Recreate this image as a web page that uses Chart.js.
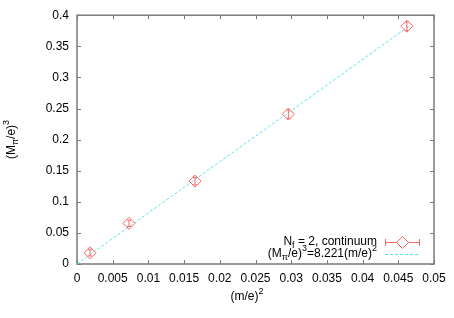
<!DOCTYPE html>
<html>
<head>
<meta charset="utf-8">
<script src="https://cdn.jsdelivr.net/npm/chart.js@4/dist/chart.umd.min.js"></script>
<style>
html,body{margin:0;padding:0;background:#fff;}
#wrap{width:454px;height:318px;position:relative;}
</style>
</head>
<body>
<div id="wrap"><canvas id="c" width="454" height="318"></canvas></div>
<script>
// data
const massX = [0.00182, 0.00728, 0.01653, 0.0296, 0.0462];
const massY = [0.018, 0.0654, 0.1333, 0.241, 0.3823];
const massErr = [0.005, 0.005, 0.006, 0.007, 0.007];
const fitX = [0, 0.0465];
const fitY = [0, 0.3823];
const xTicks = [0, 0.005, 0.01, 0.015, 0.02, 0.025, 0.03, 0.035, 0.04, 0.045, 0.05];
const xTickLabels = ["0", "0.005", "0.01", "0.015", "0.02", "0.025", "0.03", "0.035", "0.04", "0.045", "0.05"];
const yTicks = [0, 0.05, 0.1, 0.15, 0.2, 0.25, 0.3, 0.35, 0.4];
const yTickLabels = ["0", "0.05", "0.1", "0.15", "0.2", "0.25", "0.3", "0.35", "0.4"];
const seriesLabel = "N_f = 2, continuum";
const fitLabel = "(M_π/e)^3=8.221(m/e)^2";

const RED = "#ff6666";
const CYAN = "#55e6ee";
const AXIS = "#7a7a7a";
const FONT = "'Liberation Sans', Arial, sans-serif";

function parseRich(s){
  const segs=[]; let i=0; let cur='';
  while(i<s.length){
    const ch=s[i];
    if((ch==='_'||ch==='^') && i+1<s.length){
      if(cur){segs.push({t:cur,m:'n'});cur='';}
      segs.push({t:s[i+1],m: ch==='_'?'sub':'sup'});
      i+=2; continue;
    }
    cur+=ch; i++;
  }
  if(cur) segs.push({t:cur,m:'n'});
  return segs;
}
function richWidth(ctx,segs){
  let w=0;
  for(const s of segs){ctx.font=(s.m==='n'?'12px ':'9px ')+FONT; w+=ctx.measureText(s.t).width;}
  return w;
}
function drawRich(ctx,segs,x,y){
  for(const s of segs){
    ctx.font=(s.m==='n'?'12px ':'9px ')+FONT;
    const dy = s.m==='sub'?4:(s.m==='sup'?-5:0);
    ctx.fillText(s.t,x,y+dy);
    x+=ctx.measureText(s.t).width;
  }
}

const decor = {
  id:'decor',
  beforeDatasetsDraw(chart){
    const {ctx, chartArea:a, scales:{x,y}} = chart;
    ctx.save();
    ctx.strokeStyle=AXIS; ctx.lineWidth=1.5;
    ctx.strokeRect(a.left,a.top,a.right-a.left,a.bottom-a.top);
    ctx.lineWidth=1;
    const L=4;
    for(const v of xTicks){
      const px=Math.round(x.getPixelForValue(v))+0.5;
      ctx.beginPath();
      ctx.moveTo(px,a.bottom);ctx.lineTo(px,a.bottom-L);
      ctx.moveTo(px,a.top);ctx.lineTo(px,a.top+L);
      ctx.stroke();
    }
    for(const v of yTicks){
      const py=Math.round(y.getPixelForValue(v))+0.5;
      ctx.beginPath();
      ctx.moveTo(a.left,py);ctx.lineTo(a.left+L,py);
      ctx.moveTo(a.right,py);ctx.lineTo(a.right-L,py);
      ctx.stroke();
    }
    ctx.restore();
  },
  afterDatasetsDraw(chart){
    const {ctx, chartArea:a, scales:{x,y}} = chart;
    ctx.save();
    ctx.strokeStyle=RED; ctx.lineWidth=1;
    for(let i=0;i<massX.length;i++){
      const px=x.getPixelForValue(massX[i]);
      const y1=y.getPixelForValue(massY[i]-massErr[i]);
      const y2=y.getPixelForValue(massY[i]+massErr[i]);
      ctx.beginPath();
      ctx.moveTo(px,y1);ctx.lineTo(px,y2);
      ctx.moveTo(px-2,y1);ctx.lineTo(px+2,y1);
      ctx.moveTo(px-2,y2);ctx.lineTo(px+2,y2);
      ctx.stroke();
    }
    ctx.fillStyle='#000'; ctx.textBaseline='middle'; ctx.textAlign='left';
    const tx=377;
    let segs=parseRich(seriesLabel);
    drawRich(ctx,segs,tx-richWidth(ctx,segs),242);
    segs=parseRich(fitLabel);
    drawRich(ctx,segs,tx-richWidth(ctx,segs),254);
    ctx.strokeStyle=RED; ctx.lineWidth=1;
    ctx.beginPath();
    ctx.moveTo(385,242.5);ctx.lineTo(420,242.5);
    ctx.moveTo(385.5,239);ctx.lineTo(385.5,246);
    ctx.moveTo(419.5,239);ctx.lineTo(419.5,246);
    ctx.stroke();
    ctx.fillStyle='#fff';
    ctx.beginPath();
    ctx.moveTo(402.5-6,242.5);ctx.lineTo(402.5,236.5);ctx.lineTo(402.5+6,242.5);ctx.lineTo(402.5,248.5);ctx.closePath();
    ctx.fill();ctx.stroke();
    ctx.strokeStyle=CYAN; ctx.setLineDash([3,2]);
    ctx.beginPath();ctx.moveTo(385,254.5);ctx.lineTo(420,254.5);ctx.stroke();
    ctx.setLineDash([]);
    ctx.fillStyle='#000';
    segs=parseRich("(m/e)^2");
    drawRich(ctx,segs,247-richWidth(ctx,segs)/2,297);
    ctx.translate(12,139.5);
    ctx.rotate(-Math.PI/2);
    segs=parseRich("(M_π/e)^3");
    drawRich(ctx,segs,-richWidth(ctx,segs)/2,0);
    ctx.restore();
  }
};

new Chart(document.getElementById('c'),{
  type:'scatter',
  data:{
    datasets:[
      {
        label:'fit',
        data: fitX.map((v,i)=>({x:v,y:fitY[i]})),
        showLine:true,
        borderColor:CYAN,
        borderWidth:1,
        borderDash:[3,2],
        pointRadius:0,
        fill:false,
        order:2
      },
      {
        label:'points',
        data: massX.map((v,i)=>({x:v,y:massY[i]})),
        pointStyle:'rectRot',
        pointRadius:6,
        pointHoverRadius:6,
        pointBorderWidth:1,
        borderColor:RED,
        backgroundColor:'rgba(255,255,255,0)',
        showLine:false,
        order:1
      }
    ]
  },
  options:{
    responsive:false,
    animation:false,
    devicePixelRatio:1,
    layout:{padding:{left:0,top:15,right:20,bottom:0}},
    plugins:{legend:{display:false},tooltip:{enabled:false},title:{display:false}},
    scales:{
      x:{
        type:'linear',min:0,max:0.05,
        afterBuildTicks(s){s.ticks=xTicks.map(v=>({value:v}));},
        afterFit(s){s.height=318-264;},
        grid:{display:false,drawTicks:false},
        border:{display:false},
        ticks:{
          color:'#000',font:{family:FONT,size:12},padding:7,maxRotation:0,autoSkip:false,
          callback:(v,i)=>xTickLabels[i]
        }
      },
      y:{
        type:'linear',min:0,max:0.4,
        afterBuildTicks(s){s.ticks=yTicks.map(v=>({value:v}));},
        afterFit(s){s.width=77;},
        grid:{display:false,drawTicks:false},
        border:{display:false},
        ticks:{
          color:'#000',font:{family:FONT,size:12},padding:8,autoSkip:false,
          callback:(v,i)=>yTickLabels[i]
        }
      }
    }
  },
  plugins:[decor]
});
</script>
</body>
</html>
